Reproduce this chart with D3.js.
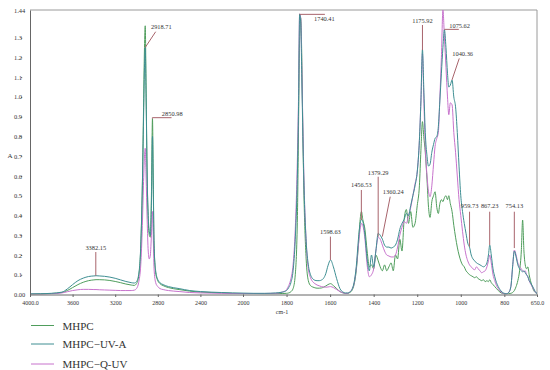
<!DOCTYPE html>
<html><head><meta charset="utf-8">
<script src="https://cdn.jsdelivr.net/npm/d3@7"></script>
<style>body{margin:0;background:#fff}</style>
</head><body>
<svg id="chart" width="550" height="370"></svg>
<script>
// ---------- DATA ----------
const wavenumbers = [
  4000,3900,3800,3700,3650,3600,3550,3500,3450,3400,3380,3350,3300,3250,3200,3150,3100,3050,3020,3000,
  2980,2960,2945,2935,2925,2918,2910,2900,2890,2880,2870,2860,2850,2843,2835,2820,2800,2780,2750,2700,
  2600,2500,2400,2300,2200,2100,2000,
  1950,1900,1850,1820,1800,1790,1780,1770,1760,1750,1745,1740,1735,1730,1725,1720,1710,1700,1690,1680,
  1670,1660,1650,1640,1630,1620,1610,1598,1585,1570,1555,1540,1530,
  1520,1510,1500,1490,1480,1470,1462,1456,1450,1440,
  1430,1420,1410,1400,1390,1379,1370,1360,1350,1340,
  1330,1320,1310,1300,1290,1280,1270,1260,1250,1240,
  1230,1220,1210,1200,1190,1183,1176,1170,1163,1155,
  1148,1141,1133,1125,1118,1110,1103,1096,1089,1082,
  1075,1068,1061,1055,1048,1040,1032,1024,1016,1008,
  1000,992,984,976,968,960,952,944,936,928,
  920,912,904,896,888,880,873,867,860,852,
  844,836,828,820,810,800,790,780,770,762,
  754,746,738,730,722,716,710,704,698,692,
  686,680,672,665,658,650
];
const mhpc = [
  0.002,0.003,0.005,0.01,0.02,0.035,0.05,0.062,0.07,0.074,0.075,0.075,0.074,0.071,0.066,0.06,0.053,0.048,0.046,0.055,
  0.09,0.24,0.55,0.9,1.25,1.36,1.05,0.6,0.38,0.3,0.29,0.5,0.89,0.6,0.25,0.11,0.07,0.055,0.045,0.035,
  0.025,0.017,0.012,0.01,0.008,0.006,0.005,
  0.005,0.004,0.004,0.005,0.006,0.008,0.014,0.03,0.1,0.4,0.85,1.3,1.4,1.2,0.8,0.5,0.18,0.07,0.045,0.038,
  0.034,0.032,0.032,0.033,0.037,0.043,0.05,0.055,0.045,0.03,0.015,0.008,0.005,
  0.005,0.01,0.02,0.05,0.12,0.25,0.38,0.42,0.38,0.33,
  0.22,0.14,0.15,0.13,0.2,0.17,0.14,0.12,0.15,0.12,
  0.14,0.16,0.12,0.2,0.18,0.28,0.22,0.38,0.43,0.36,
  0.42,0.34,0.36,0.45,0.55,0.73,0.875,0.8,0.72,0.58,
  0.44,0.39,0.47,0.5,0.52,0.44,0.41,0.46,0.48,0.47,
  0.49,0.5,0.48,0.5,0.46,0.42,0.35,0.29,0.24,0.2,
  0.17,0.15,0.14,0.12,0.11,0.1,0.095,0.09,0.085,0.09,
  0.08,0.075,0.07,0.075,0.065,0.07,0.065,0.075,0.06,0.05,
  0.04,0.03,0.02,0.012,0.006,0.004,0.003,0.004,0.006,0.01,
  0.02,0.04,0.07,0.12,0.22,0.377,0.22,0.15,0.13,0.14,
  0.1,0.07,0.04,0.02,0.01,0.003
];
const mhpcUVA = [
  0.003,0.004,0.006,0.012,0.028,0.05,0.07,0.083,0.091,0.094,0.095,0.094,0.092,0.088,0.082,0.074,0.066,0.06,0.058,0.065,
  0.1,0.25,0.55,0.85,1.15,1.25,1.0,0.6,0.4,0.32,0.3,0.45,0.8,0.55,0.25,0.12,0.075,0.06,0.05,0.04,
  0.03,0.02,0.015,0.012,0.01,0.008,0.007,
  0.006,0.006,0.008,0.012,0.02,0.035,0.06,0.12,0.28,0.62,0.95,1.42,1.38,1.1,0.8,0.55,0.27,0.15,0.1,0.08,
  0.072,0.07,0.07,0.073,0.082,0.105,0.145,0.175,0.14,0.08,0.03,0.012,0.008,
  0.008,0.012,0.025,0.06,0.14,0.28,0.36,0.38,0.37,0.3,
  0.18,0.12,0.2,0.14,0.22,0.31,0.3,0.28,0.25,0.24,
  0.24,0.235,0.24,0.25,0.28,0.33,0.36,0.38,0.41,0.4,
  0.45,0.5,0.55,0.62,0.78,0.98,1.24,1.05,0.82,0.7,
  0.65,0.66,0.72,0.76,0.79,0.8,0.85,0.98,1.12,1.25,
  1.34,1.25,1.12,1.05,1.06,1.086,1.0,0.95,0.82,0.65,
  0.5,0.42,0.36,0.31,0.26,0.24,0.2,0.18,0.17,0.16,
  0.155,0.15,0.145,0.14,0.145,0.16,0.2,0.25,0.2,0.13,
  0.09,0.06,0.04,0.025,0.012,0.006,0.004,0.01,0.04,0.14,
  0.22,0.19,0.15,0.13,0.12,0.115,0.12,0.11,0.1,0.09,
  0.07,0.06,0.045,0.03,0.015,0.005
];
const mhpcQUV = [
  0.002,0.002,0.004,0.008,0.014,0.02,0.024,0.026,0.026,0.025,0.025,0.024,0.023,0.022,0.021,0.02,0.02,0.02,0.022,0.03,
  0.06,0.15,0.35,0.55,0.7,0.74,0.6,0.38,0.22,0.18,0.2,0.3,0.42,0.3,0.13,0.06,0.04,0.03,0.025,0.02,
  0.015,0.01,0.008,0.007,0.006,0.005,0.005,
  0.005,0.005,0.006,0.012,0.025,0.045,0.08,0.15,0.33,0.7,1.0,1.42,1.4,1.15,0.85,0.58,0.27,0.13,0.085,0.065,
  0.055,0.048,0.044,0.04,0.038,0.037,0.038,0.04,0.035,0.025,0.015,0.008,0.005,
  0.006,0.012,0.025,0.055,0.13,0.25,0.33,0.36,0.35,0.28,
  0.15,0.09,0.1,0.13,0.22,0.29,0.28,0.25,0.22,0.2,
  0.195,0.19,0.19,0.2,0.24,0.3,0.34,0.37,0.36,0.4,
  0.44,0.5,0.56,0.62,0.78,0.98,1.22,1.0,0.75,0.6,
  0.52,0.495,0.55,0.66,0.75,0.79,0.82,1.0,1.2,1.44,
  1.3,1.15,1.0,0.91,0.97,0.96,0.82,0.72,0.6,0.48,
  0.4,0.32,0.25,0.2,0.17,0.15,0.14,0.13,0.125,0.14,
  0.13,0.12,0.11,0.115,0.12,0.14,0.17,0.2,0.16,0.1,
  0.07,0.045,0.03,0.018,0.008,0.004,0.004,0.01,0.04,0.14,
  0.225,0.2,0.16,0.14,0.13,0.12,0.115,0.12,0.1,0.09,
  0.07,0.055,0.04,0.025,0.012,0.005
];
const seriesNames = ["MHPC", "MHPC\u2212UV-A", "MHPC\u2212Q-UV"];
const xTickValues = [4000,3600,3200,2800,2400,2000,1800,1600,1400,1200,1000,800,650];
const xTickLabels = ["4000.0","3600","3200","2800","2400","2000","1800","1600","1400","1200","1000","800","650.0"];
const yTickValues = [0,0.1,0.2,0.3,0.4,0.5,0.6,0.7,0.8,0.9,1.0,1.1,1.2,1.3,1.44];
const yTickLabels = ["0.00","0.1","0.2","0.3","0.4","0.5","0.6","0.7","0.8","0.9","1.0","1.1","1.2","1.3","1.44"];
const peakLabels = ["3382.15","2918.71","2850.98","1740.41","1598.63","1456.53","1379.29","1360.24","1175.92","1075.62","1040.36","959.73","867.23","754.13"];
const peakWn = [3382.15,2918.71,2850.98,1740.41,1598.63,1456.53,1379.29,1360.24,1175.92,1075.62,1040.36,959.73,867.23,754.13];
const peakAbs = [0.095,1.25,0.89,1.418,0.175,0.377,0.293,0.293,1.237,1.342,1.086,0.242,0.25,0.235];

// ---------- LAYOUT ----------
const svg = d3.select("#chart");
const L = 30, R = 537, T = 10, B = 294.5;
const x = d3.scaleLinear().domain([4000, 2000, 650]).range([L, 243, R]);
const y = d3.scaleLinear().domain([0, 1.44]).range([B, T]);
const colors = ["#4f9d5c", "#3e8e92", "#c773cc"];
const annColor = "#a8646c";
const serif = "'Liberation Serif','Times New Roman',serif";

// annotation leader paths and label anchors (data units)
const annLayout = [
  {pts: [[3382.15, 0.215]], lab: [3382.15, 0.226], anchor: "middle"},
  {pts: [[2820, 1.33]], lab: [2864, 1.345], anchor: "start"},
  {pts: [[2850.98, 0.895], [2671, 0.895]], lab: [2762, 0.903], anchor: "start"},
  {pts: [[1624, 1.418]], lab: [1674, 1.386], anchor: "start"},
  {pts: [[1598.63, 0.293]], lab: [1598.63, 0.306], anchor: "middle"},
  {pts: [[1456.53, 0.529]], lab: [1456.53, 0.543], anchor: "middle"},
  {pts: [[1379.29, 0.596]], lab: [1379.29, 0.607], anchor: "middle"},
  {pts: [[1324, 0.495]], lab: [1358, 0.509], anchor: "start"},
  {pts: [[1175.92, 1.364]], lab: [1175.92, 1.373], anchor: "middle"},
  {pts: [[1009, 1.342]], lab: [1053, 1.35], anchor: "start"},
  {pts: [[1007, 1.195]], lab: [1039, 1.207], anchor: "start"},
  {pts: [[959.73, 0.419]], lab: [959.73, 0.438], anchor: "middle"},
  {pts: [[867.23, 0.419]], lab: [867.23, 0.438], anchor: "middle"},
  {pts: [[754.13, 0.419]], lab: [754.13, 0.438], anchor: "middle"}
];

// clip
svg.append("defs").append("clipPath").attr("id", "clip")
  .append("rect").attr("x", L).attr("y", T).attr("width", R - L).attr("height", B - T);

// frame
svg.append("line").attr("x1", L).attr("x2", R).attr("y1", T).attr("y2", T).attr("stroke", "#9a9a9a").attr("stroke-width", 1);
svg.append("line").attr("x1", R).attr("x2", R).attr("y1", T).attr("y2", B).attr("stroke", "#9a9a9a").attr("stroke-width", 1);

// series
const series = [mhpc, mhpcQUV, mhpcUVA];
const seriesColor = [colors[0], colors[2], colors[1]];
const line = d3.line().x(d => x(d[0])).y(d => y(d[1])).curve(d3.curveMonotoneX);
const gLines = svg.append("g").attr("clip-path", "url(#clip)");
series.forEach((vals, i) => {
  const pts = wavenumbers.map((w, j) => [w, vals[j]]);
  gLines.append("path").attr("d", line(pts)).attr("fill", "none")
    .attr("stroke", seriesColor[i]).attr("stroke-width", 1).attr("stroke-linejoin", "round");
});

// annotations
const gAnn = svg.append("g");
peakLabels.forEach((lab, i) => {
  const lay = annLayout[i];
  const pts = [[peakWn[i], peakAbs[i]]].concat(lay.pts);
  gAnn.append("path")
    .attr("d", d3.line().x(d => x(d[0])).y(d => y(d[1]))(pts))
    .attr("fill", "none").attr("stroke", annColor).attr("stroke-width", 1);
  gAnn.append("text").attr("x", x(lay.lab[0])).attr("y", y(lay.lab[1]))
    .attr("text-anchor", lay.anchor).attr("font-family", serif).attr("font-size", 6.4)
    .attr("fill", "#333").text(lab);
});

// x axis
const xAxis = d3.axisBottom(x).tickValues(xTickValues).tickFormat((d, i) => xTickLabels[i])
  .tickSize(2.5).tickSizeOuter(0).tickPadding(4);
const gx = svg.append("g").attr("transform", `translate(0,${B})`).call(xAxis);
gx.select(".domain").attr("stroke", "#666");
gx.selectAll(".tick line").attr("stroke", "#666");
gx.selectAll("text").attr("font-family", serif).attr("font-size", 6).attr("fill", "#333");

// y axis
const yAxis = d3.axisLeft(y).tickValues(yTickValues).tickFormat((d, i) => yTickLabels[i])
  .tickSize(0).tickSizeOuter(0);
const gy = svg.append("g").attr("transform", `translate(${L},0)`).call(yAxis);
gy.select(".domain").attr("stroke", "#666");
gy.selectAll("text").attr("x", -16).attr("text-anchor", "start")
  .attr("font-family", serif).attr("font-size", 6.4).attr("fill", "#333");
gy.selectAll(".tick").filter((d, i) => i > 0 && i < yTickValues.length - 1)
  .append("line").attr("x1", -9).attr("x2", -7.8).attr("stroke", "#555");

// axis titles
svg.append("text").attr("x", 10).attr("y", 158).attr("text-anchor", "middle")
  .attr("font-family", serif).attr("font-size", 7).attr("fill", "#333").text("A");
svg.append("text").attr("x", 282).attr("y", 314).attr("text-anchor", "middle")
  .attr("font-family", serif).attr("font-size", 6).attr("fill", "#333").text("cm-1");

// legend
const legY = [325.5, 344, 364];
const legColors = [colors[0], colors[1], colors[2]];
seriesNames.forEach((name, i) => {
  svg.append("line").attr("x1", 31).attr("x2", 54).attr("y1", legY[i]).attr("y2", legY[i])
    .attr("stroke", legColors[i]).attr("stroke-width", 1);
  svg.append("text").attr("x", 62.5).attr("y", legY[i] + 4).attr("font-family", serif)
    .attr("font-size", 11).attr("fill", "#333").text(name);
});
</script>
</body></html>
